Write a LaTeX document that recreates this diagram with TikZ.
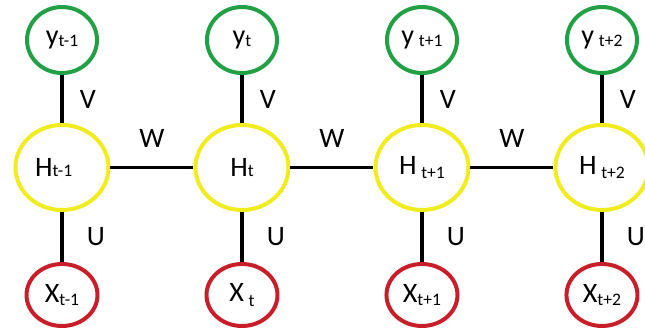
\documentclass[tikz,border=0pt]{standalone}
\usepackage{fontspec}
\setmainfont{Carlito}
\usepackage{tikz}
\usetikzlibrary{positioning,shapes.geometric}
\definecolor{outgreen}{RGB}{34,160,70}
\definecolor{hidyellow}{RGB}{240,236,30}
\definecolor{inred}{RGB}{200,30,42}
\newcommand{\idx}[2][0.5pt]{\raisebox{-#1}{\fontsize{15}{18}\selectfont #2}}
\tikzset{
  hidden/.style={
    draw=hidyellow,
    ellipse,
    line width=3.4pt,
    minimum width=2.79cm,
    minimum height=2.55cm,
    inner sep=0pt,
    font=\fontsize{24}{28}\selectfont
  },
  output/.style={
    draw=outgreen,
    ellipse,
    line width=3.4pt,
    minimum width=2.1cm,
    minimum height=1.98cm,
    inner sep=0pt,
    font=\fontsize{24}{28}\selectfont
  },
  input/.style={
    draw=inred,
    ellipse,
    line width=3.4pt,
    minimum width=2.13cm,
    minimum height=1.86cm,
    inner sep=0pt,
    font=\fontsize{24}{28}\selectfont
  },
  link/.style={
    line width=3.4pt
  },
  weight/.style={
    inner sep=0pt,
    font=\fontsize{24}{28}\selectfont
  }
}

\begin{document}
\begin{tikzpicture}[node distance=1.44cm and 2.49cm]
  \useasboundingbox (0,0) rectangle (19.35,-9.99);

  \node[hidden] (h1) at (1.86,-5.025) {H\idx{t-1}\hspace*{0.5cm}};
  \node[hidden, right=of h1] (h2) {H\idx{t}};
  \node[hidden, right=of h2] (h3) {H\,\idx[4pt]{t+1}};
  \node[hidden, right=of h3] (h4) {H\,\idx[4pt]{t+2}};

  \node[output, above=of h1] (y1) {y\idx[2pt]{t-1}};
  \node[output, above=of h2] (y2) {y\idx[2pt]{t}};
  \node[output, above=of h3] (y3) {y\,\idx[2pt]{t+1}};
  \node[output, above=of h4] (y4) {y\,\idx[2pt]{t+2}};

  \node[input, below=1.5cm of h1] (x1) {X\idx[2pt]{t-1}};
  \node[input, below=1.5cm of h2] (x2) {X\,\idx[4pt]{t}};
  \node[input, below=1.5cm of h3] (x3) {X\idx[2pt]{t+1}};
  \node[input, below=1.5cm of h4] (x4) {X\idx[2pt]{t+2}};

  \draw[link] (y1) -- node[weight, right=0.48cm] {V} (h1);
  \draw[link] (y2) -- node[weight, right=0.48cm] {V} (h2);
  \draw[link] (y3) -- node[weight, right=0.48cm] {V} (h3);
  \draw[link] (y4) -- node[weight, right=0.48cm] {V} (h4);

  \draw[link] (h1) -- node[weight, right=0.69cm] {U} (x1);
  \draw[link] (h2) -- node[weight, right=0.69cm] {U} (x2);
  \draw[link] (h3) -- node[weight, right=0.69cm] {U} (x3);
  \draw[link] (h4) -- node[weight, right=0.69cm] {U} (x4);

  \draw[link] (h1) -- node[weight, above=0.54cm] {W} (h2);
  \draw[link] (h2) -- node[weight, above=0.54cm] {W} (h3);
  \draw[link] (h3) -- node[weight, above=0.54cm] {W} (h4);
\end{tikzpicture}
\end{document}
